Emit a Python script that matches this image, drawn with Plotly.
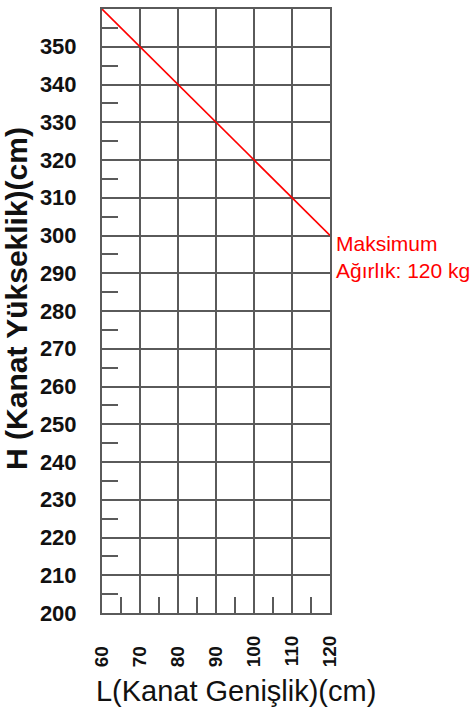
import plotly.graph_objects as go

# Data
x_line = [60, 120]
y_line = [360, 300]
x_ticks = [60, 70, 80, 90, 100, 110, 120]
y_ticks = [200, 210, 220, 230, 240, 250, 260, 270, 280, 290, 300, 310, 320, 330, 340, 350]
label_lines = ["Maksimum", "Ağırlık: 120 kg"]

NB = "\u00a0"
x_ticktext = [str(v) + NB * (2 * (3 - len(str(v)))) for v in x_ticks]

SANS = "Liberation Sans, Arial"

fig = go.Figure()
fig.add_trace(go.Scatter(x=x_line, y=y_line, mode="lines",
                         line=dict(color="#ff0000", width=1.6),
                         hoverinfo="skip", showlegend=False, cliponaxis=False))

grid = "#5a5a5a"
fig.update_xaxes(
    range=[60, 120], tickvals=x_ticks, ticktext=x_ticktext, tickangle=-90,
    showgrid=True, gridcolor=grid, gridwidth=2,
    showline=True, linecolor=grid, linewidth=2, mirror=True,
    zeroline=False, ticks="", ticklabelstandoff=13,
    tickfont=dict(family=SANS, size=19, color="#111", weight="bold"),
    minor=dict(tickvals=[65, 75, 85, 95, 105, 115], ticks="inside", ticklen=16,
               tickcolor=grid, tickwidth=2, showgrid=False),
    title=dict(text="<span>" + NB * 5 + "</span>L(Kanat Genişlik)(cm)", standoff=14,
               font=dict(family=SANS, size=29, color="#111")),
)
fig.update_yaxes(
    range=[200, 360], tickvals=y_ticks,
    showgrid=True, gridcolor=grid, gridwidth=2,
    showline=True, linecolor=grid, linewidth=2, mirror=True,
    zeroline=False, ticks="", ticklabelstandoff=19,
    tickfont=dict(family=SANS, size=22, color="#111", weight="bold"),
    minor=dict(tickvals=list(range(205, 360, 10)), ticks="inside", ticklen=16,
               tickcolor=grid, tickwidth=2, showgrid=False),
    title=dict(text="<b>" + NB * 3 + "H (Kanat Yükseklik)(cm)</b>", standoff=4,
               font=dict(family=SANS, size=30, color="#111")),
)

fig.add_annotation(x=120, y=300, xref="x", yref="y", xanchor="left", yanchor="middle",
                   xshift=4, yshift=-21, align="left", showarrow=False,
                   text="<br>".join(label_lines),
                   font=dict(family=SANS, size=21, color="#ff0000"))

fig.update_layout(
    width=472, height=711,
    margin=dict(l=102, r=142, t=7, b=98),
    plot_bgcolor="white", paper_bgcolor="white",
)
fig.write_html("out.html", config={"displayModeBar": False},
               post_script="document.body.style.margin='0px';")
